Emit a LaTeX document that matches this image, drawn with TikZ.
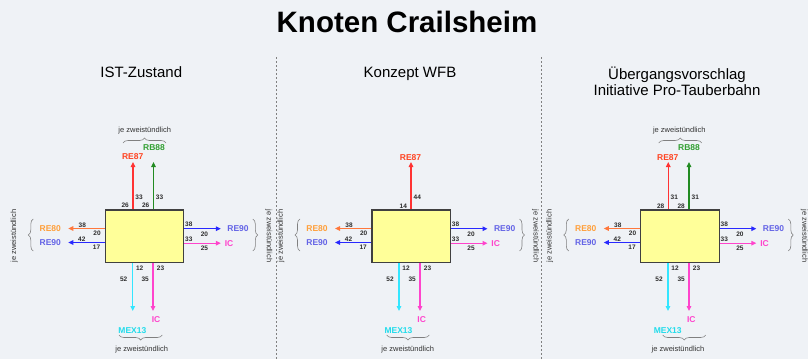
\documentclass[tikz,border=0pt]{standalone}
\usepackage{fontspec}
\setmainfont{Liberation Sans}
\usetikzlibrary{arrows.meta,decorations.pathreplacing}

\definecolor{hinter}{RGB}{239,242,246}
\definecolor{kasten}{RGB}{255,255,153}
\definecolor{re87}{RGB}{255,51,51}
\definecolor{re87text}{RGB}{255,68,34}
\definecolor{rb88}{RGB}{34,139,34}
\definecolor{rb88text}{RGB}{51,160,51}
\definecolor{re80}{RGB}{255,120,60}
\definecolor{re80text}{RGB}{255,160,60}
\definecolor{re90}{RGB}{40,40,255}
\definecolor{re90text}{RGB}{100,100,230}
\definecolor{icfarbe}{RGB}{255,68,204}
\definecolor{mex13}{RGB}{51,230,255}
\definecolor{mex13text}{RGB}{34,220,235}
\definecolor{zahlfarbe}{RGB}{45,45,45}

\begin{document}
\begin{tikzpicture}[x=1pt, y=-1pt,
    knoten/.style={draw=black!75, line width=1.1pt, fill=kasten, minimum width=78.5pt, minimum height=52.5pt, inner sep=0pt},
    pfeil/.style={line width=1.2pt, -{Triangle[length=5pt,width=4.5pt]}},
    linie/.style={font=\fontsize{8.5}{10}\selectfont\bfseries, inner sep=0pt},
    zahl/.style={font=\fontsize{6.5}{8}\selectfont\bfseries, text=zahlfarbe, inner sep=0pt},
    klammer/.style={draw=gray, line width=0.6pt, decorate, decoration={brace, amplitude=5pt}},
    hinweis/.style={font=\fontsize{7.5}{9}\selectfont, text=black!80, inner sep=0pt},
    kopf/.style={font=\fontsize{15}{16.5}\selectfont, align=center, inner sep=0pt}]

    % Hintergrund
    \fill[hinter] (0,0) rectangle (808,359);
    \useasboundingbox (0,0) rectangle (808,359);

    % Titel und Überschriften
    \node (titel) at (407,21.5) {\fontsize{29.5}{34}\selectfont\bfseries Knoten Crailsheim};
    \node[kopf, anchor=base] (kopfa) at (141.3,77.3) {IST-Zustand};
    \node[kopf, anchor=base] (kopfb) at (410,77.3) {Konzept WFB};
    \node[kopf, anchor=base] (kopfc) at (677,95.7) {Übergangsvorschlag\\Initiative Pro-Tauberbahn};

    % Trennlinien
    \draw[gray, line width=0.6pt, dash pattern=on 2pt off 2pt] (276,57) -- (276,359);
    \draw[gray, line width=0.6pt, dash pattern=on 2pt off 2pt] (541,57) -- (541,359);

    % ===== IST-Zustand =====
    \node[knoten] (a-box) at (144.55,236.25) {};

    % oben
    \coordinate (a-o1) at (133,162);
    \coordinate (a-o2) at (153.5,162);
    \draw[pfeil, re87] (a-box.north -| a-o1) -- (a-o1);
    \draw[pfeil, rb88] (a-box.north -| a-o2) -- (a-o2);
    \node[linie, text=re87text] (a-re87) at (132.7,157) {RE87};
    \node[linie, text=rb88text] (a-rb88) at (154,148) {RB88};
    \node[zahl] (a-z1) at (125.2,205.5) {26};
    \node[zahl] (a-z2) at (139,196.8) {33};
    \node[zahl] (a-z3) at (145.7,205.5) {26};
    \node[zahl] (a-z4) at (159.5,196.8) {33};
    \draw[klammer] (123,143) -- (166,143);
    \node[hinweis] (a-h1) at (144.7,130.5) {je zweistündlich};

    % links
    \coordinate (a-l1) at (68.3,228.5);
    \coordinate (a-l2) at (68.3,242.5);
    \draw[pfeil, re80] (a-box.west |- a-l1) -- (a-l1);
    \draw[pfeil, re90] (a-box.west |- a-l2) -- (a-l2);
    \node[linie, text=re80text] (a-re80) at (50.3,228.5) {RE80};
    \node[linie, text=re90text] (a-re90l) at (50.3,242.5) {RE90};
    \node[zahl] (a-z5) at (82.3,224.8) {38};
    \node[zahl] (a-z6) at (97,233.5) {20};
    \node[zahl] (a-z7) at (81.8,239.2) {42};
    \node[zahl] (a-z8) at (96.5,247.3) {17};
    \draw[klammer] (33.3,251) -- (33.3,219);
    \node[hinweis, rotate=90] (a-h2) at (14.3,236) {je zweistündlich};

    % rechts
    \coordinate (a-r1) at (220.8,228.7);
    \coordinate (a-r2) at (220.8,243.2);
    \draw[pfeil, re90] (a-box.east |- a-r1) -- (a-r1);
    \draw[pfeil, icfarbe] (a-box.east |- a-r2) -- (a-r2);
    \node[linie, text=re90text] (a-re90r) at (238,228.7) {RE90};
    \node[linie, text=icfarbe] (a-ic1) at (229,243.2) {IC};
    \node[zahl] (a-z9) at (188.8,224.6) {38};
    \node[zahl] (a-z10) at (204.4,234.6) {20};
    \node[zahl] (a-z11) at (188.8,239.6) {33};
    \node[zahl] (a-z12) at (204.4,248.4) {25};
    \draw[klammer] (252.8,219) -- (252.8,251);
    \node[hinweis, rotate=-90] (a-h3) at (268.8,236) {je zweistündlich};

    % unten
    \coordinate (a-u1) at (132.7,311);
    \coordinate (a-u2) at (153,311);
    \draw[pfeil, mex13] (a-box.south -| a-u1) -- (a-u1);
    \draw[pfeil, icfarbe] (a-box.south -| a-u2) -- (a-u2);
    \node[linie, text=mex13text] (a-mex13) at (132.4,330.3) {MEX13};
    \node[linie, text=icfarbe] (a-ic2) at (156,319.7) {IC};
    \node[zahl] (a-z13) at (139.7,268.7) {12};
    \node[zahl] (a-z14) at (123.7,279.6) {52};
    \node[zahl] (a-z15) at (160.5,268.7) {23};
    \node[zahl] (a-z16) at (145.2,279.6) {35};
    \draw[klammer] (162.3,335) -- (119,335);
    \node[hinweis] (a-h4) at (141.7,349.5) {je zweistündlich};

    % ===== Konzept WFB =====
    \node[knoten] (b-box) at (411.25,236.25) {};

    % oben
    \coordinate (b-o1) at (411,162);
    \draw[pfeil, re87] (b-box.north -| b-o1) -- (b-o1);
    \node[linie, text=re87text] (b-re87) at (410.5,157.5) {RE87};
    \node[zahl] (b-z1) at (403.3,206) {14};
    \node[zahl] (b-z2) at (417.3,197) {44};

    % links
    \coordinate (b-l1) at (335,228.5);
    \coordinate (b-l2) at (335,242.5);
    \draw[pfeil, re80] (b-box.west |- b-l1) -- (b-l1);
    \draw[pfeil, re90] (b-box.west |- b-l2) -- (b-l2);
    \node[linie, text=re80text] (b-re80) at (317,228.5) {RE80};
    \node[linie, text=re90text] (b-re90l) at (317,242.5) {RE90};
    \node[zahl] (b-z5) at (349,224.8) {38};
    \node[zahl] (b-z6) at (363.7,233.5) {20};
    \node[zahl] (b-z7) at (348.5,239.2) {42};
    \node[zahl] (b-z8) at (363.2,247.3) {17};
    \draw[klammer] (300,251) -- (300,219);
    \node[hinweis, rotate=90] (b-h2) at (281,236) {je zweistündlich};

    % rechts
    \coordinate (b-r1) at (487.5,228.7);
    \coordinate (b-r2) at (487.5,243.2);
    \draw[pfeil, re90] (b-box.east |- b-r1) -- (b-r1);
    \draw[pfeil, icfarbe] (b-box.east |- b-r2) -- (b-r2);
    \node[linie, text=re90text] (b-re90r) at (504.7,228.7) {RE90};
    \node[linie, text=icfarbe] (b-ic1) at (495.7,243.2) {IC};
    \node[zahl] (b-z9) at (455.5,224.6) {38};
    \node[zahl] (b-z10) at (471.1,234.6) {20};
    \node[zahl] (b-z11) at (455.5,239.6) {33};
    \node[zahl] (b-z12) at (471.1,248.4) {25};
    \draw[klammer] (519.5,219) -- (519.5,251);
    \node[hinweis, rotate=-90] (b-h3) at (535.5,236) {je zweistündlich};

    % unten
    \coordinate (b-u1) at (399,311);
    \coordinate (b-u2) at (420,311);
    \draw[pfeil, mex13] (b-box.south -| b-u1) -- (b-u1);
    \draw[pfeil, icfarbe] (b-box.south -| b-u2) -- (b-u2);
    \node[linie, text=mex13text] (b-mex13) at (398.5,330.3) {MEX13};
    \node[linie, text=icfarbe] (b-ic2) at (421.7,319.7) {IC};
    \node[zahl] (b-z13) at (406,268.7) {12};
    \node[zahl] (b-z14) at (390,279.6) {52};
    \node[zahl] (b-z15) at (427.5,268.7) {23};
    \node[zahl] (b-z16) at (412.2,279.6) {35};
    \draw[klammer] (429.3,335) -- (386.7,335);
    \node[hinweis] (b-h4) at (407.7,349.5) {je zweistündlich};

    % ===== Übergangsvorschlag =====
    \node[knoten] (c-box) at (680.05,236.25) {};

    % oben
    \coordinate (c-o1) at (668.3,162);
    \coordinate (c-o2) at (689,162);
    \draw[pfeil, re87] (c-box.north -| c-o1) -- (c-o1);
    \draw[pfeil, rb88] (c-box.north -| c-o2) -- (c-o2);
    \node[linie, text=re87text] (c-re87) at (667.8,157.5) {RE87};
    \node[linie, text=rb88text] (c-rb88) at (689,148) {RB88};
    \node[zahl] (c-z1) at (660.7,206) {28};
    \node[zahl] (c-z2) at (674.3,197) {31};
    \node[zahl] (c-z3) at (681.2,206) {28};
    \node[zahl] (c-z4) at (695.3,197) {31};
    \draw[klammer] (658.7,143) -- (701.7,143);
    \node[hinweis] (c-h1) at (679.3,130.5) {je zweistündlich};

    % links
    \coordinate (c-l1) at (603.8,228.5);
    \coordinate (c-l2) at (603.8,242.5);
    \draw[pfeil, re80] (c-box.west |- c-l1) -- (c-l1);
    \draw[pfeil, re90] (c-box.west |- c-l2) -- (c-l2);
    \node[linie, text=re80text] (c-re80) at (585.8,228.5) {RE80};
    \node[linie, text=re90text] (c-re90l) at (585.8,242.5) {RE90};
    \node[zahl] (c-z5) at (617.8,224.8) {38};
    \node[zahl] (c-z6) at (632.5,233.5) {20};
    \node[zahl] (c-z7) at (617.3,239.2) {42};
    \node[zahl] (c-z8) at (632,247.3) {17};
    \draw[klammer] (568.8,251) -- (568.8,219);
    \node[hinweis, rotate=90] (c-h2) at (549.8,236) {je zweistündlich};

    % rechts
    \coordinate (c-r1) at (756.3,228.7);
    \coordinate (c-r2) at (756.3,243.2);
    \draw[pfeil, re90] (c-box.east |- c-r1) -- (c-r1);
    \draw[pfeil, icfarbe] (c-box.east |- c-r2) -- (c-r2);
    \node[linie, text=re90text] (c-re90r) at (773.5,228.7) {RE90};
    \node[linie, text=icfarbe] (c-ic1) at (764.5,243.2) {IC};
    \node[zahl] (c-z9) at (724.3,224.6) {38};
    \node[zahl] (c-z10) at (739.9,234.6) {20};
    \node[zahl] (c-z11) at (724.3,239.6) {33};
    \node[zahl] (c-z12) at (739.9,248.4) {25};
    \draw[klammer] (788.3,219) -- (788.3,251);
    \node[hinweis, rotate=-90] (c-h3) at (804.3,236) {je zweistündlich};

    % unten
    \coordinate (c-u1) at (668,311);
    \coordinate (c-u2) at (689,311);
    \draw[pfeil, mex13] (c-box.south -| c-u1) -- (c-u1);
    \draw[pfeil, icfarbe] (c-box.south -| c-u2) -- (c-u2);
    \node[linie, text=mex13text] (c-mex13) at (667.7,330.3) {MEX13};
    \node[linie, text=icfarbe] (c-ic2) at (691.3,319.7) {IC};
    \node[zahl] (c-z13) at (675,268.7) {12};
    \node[zahl] (c-z14) at (659,279.6) {52};
    \node[zahl] (c-z15) at (696.5,268.7) {23};
    \node[zahl] (c-z16) at (681.2,279.6) {35};
    \draw[klammer] (705.7,335) -- (662.7,335);
    \node[hinweis] (c-h4) at (678,349.5) {je zweistündlich};
\end{tikzpicture}
\end{document}
